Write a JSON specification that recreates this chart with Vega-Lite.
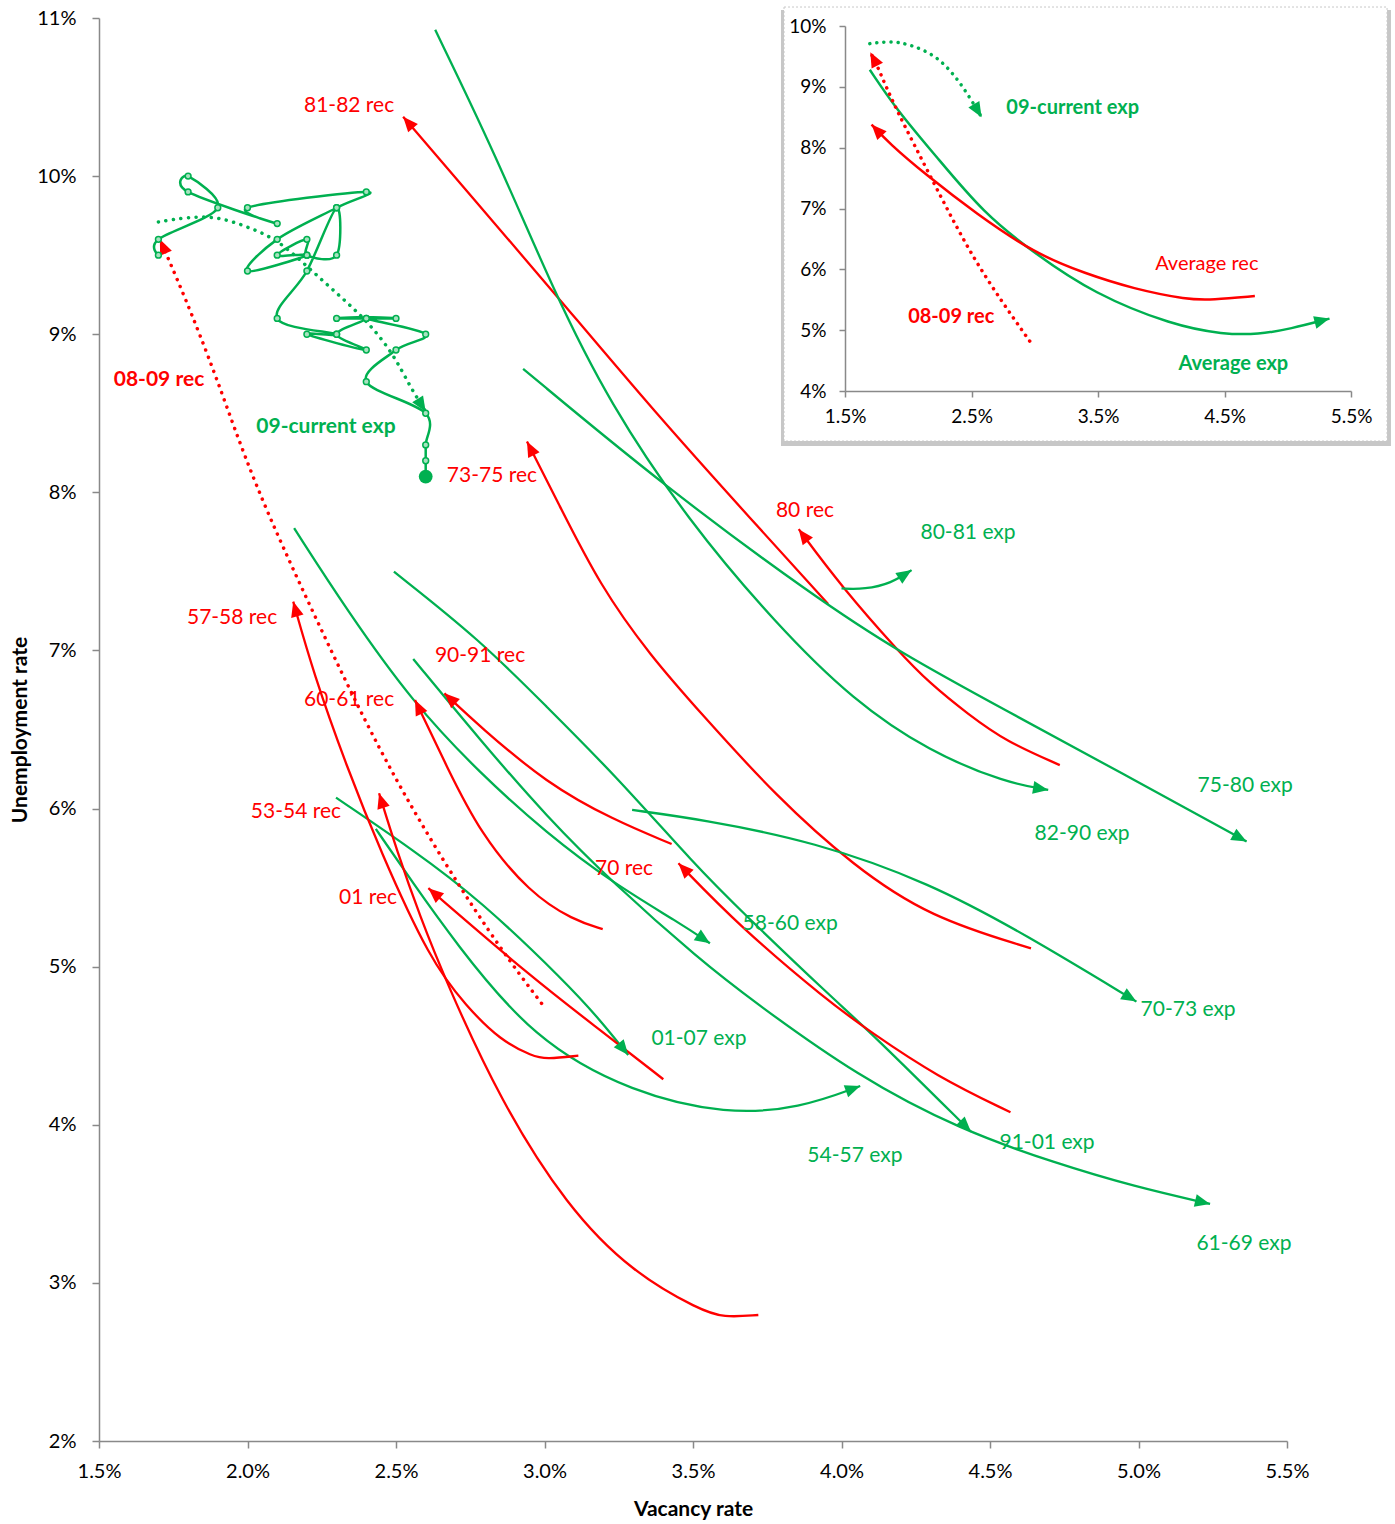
{
  "$schema": "https://vega.github.io/schema/vega-lite/v6.json",
  "width": 1188,
  "height": 1423,
  "autosize": {"type": "none"},
  "padding": {"left": 99, "top": 18, "right": 108, "bottom": 83},
  "background": "white",
  "config": {
    "font": "Lato",
    "view": {"stroke": null},
    "axis": {
      "grid": false,
      "domainColor": "#898989",
      "tickColor": "#898989",
      "domainWidth": 1.5,
      "tickWidth": 1.5,
      "labelColor": "#000000",
      "labelFont": "Lato",
      "titleFont": "Lato",
      "titleColor": "#000000",
      "titleFontWeight": "bold",
      "labelFlush": false,
      "labelOverlap": false
    }
  },
  "datasets": {
    "curves": [
      {"s": "81-82 rec", "k": "rec", "i": 1, "x": 3.955, "y": 7.294},
      {"s": "81-82 rec", "k": "rec", "i": 2, "x": 3.698, "y": 7.825},
      {"s": "81-82 rec", "k": "rec", "i": 3, "x": 3.374, "y": 8.5},
      {"s": "81-82 rec", "k": "rec", "i": 4, "x": 3.034, "y": 9.259},
      {"s": "81-82 rec", "k": "rec", "i": 5, "x": 2.755, "y": 9.87},
      {"s": "81-82 rec", "k": "rec", "i": 6, "x": 2.524, "y": 10.376},
      {"s": "80 rec", "k": "rec", "i": 1, "x": 4.735, "y": 6.275},
      {"s": "80 rec", "k": "rec", "i": 2, "x": 4.555, "y": 6.423},
      {"s": "80 rec", "k": "rec", "i": 3, "x": 4.426, "y": 6.597},
      {"s": "80 rec", "k": "rec", "i": 4, "x": 4.297, "y": 6.793},
      {"s": "80 rec", "k": "rec", "i": 5, "x": 4.194, "y": 6.989},
      {"s": "80 rec", "k": "rec", "i": 6, "x": 4.0, "y": 7.404},
      {"s": "80 rec", "k": "rec", "i": 7, "x": 3.856, "y": 7.767},
      {"s": "80-81 exp", "k": "exp", "i": 1, "x": 4.0, "y": 7.392},
      {"s": "80-81 exp", "k": "exp", "i": 2, "x": 4.078, "y": 7.386},
      {"s": "80-81 exp", "k": "exp", "i": 3, "x": 4.168, "y": 7.425},
      {"s": "80-81 exp", "k": "exp", "i": 4, "x": 4.236, "y": 7.508},
      {"s": "82-90 exp", "k": "exp", "i": 1, "x": 2.632, "y": 10.925},
      {"s": "82-90 exp", "k": "exp", "i": 2, "x": 2.833, "y": 10.145},
      {"s": "82-90 exp", "k": "exp", "i": 3, "x": 3.034, "y": 9.259},
      {"s": "82-90 exp", "k": "exp", "i": 4, "x": 3.219, "y": 8.564},
      {"s": "82-90 exp", "k": "exp", "i": 5, "x": 3.482, "y": 7.825},
      {"s": "82-90 exp", "k": "exp", "i": 6, "x": 3.781, "y": 7.164},
      {"s": "82-90 exp", "k": "exp", "i": 7, "x": 4.039, "y": 6.684},
      {"s": "82-90 exp", "k": "exp", "i": 8, "x": 4.297, "y": 6.358},
      {"s": "82-90 exp", "k": "exp", "i": 9, "x": 4.555, "y": 6.162},
      {"s": "82-90 exp", "k": "exp", "i": 10, "x": 4.696, "y": 6.118},
      {"s": "75-80 exp", "k": "exp", "i": 1, "x": 2.928, "y": 8.781},
      {"s": "75-80 exp", "k": "exp", "i": 2, "x": 3.405, "y": 8.036},
      {"s": "75-80 exp", "k": "exp", "i": 3, "x": 3.91, "y": 7.338},
      {"s": "75-80 exp", "k": "exp", "i": 4, "x": 4.194, "y": 6.989},
      {"s": "75-80 exp", "k": "exp", "i": 5, "x": 4.555, "y": 6.619},
      {"s": "75-80 exp", "k": "exp", "i": 6, "x": 4.941, "y": 6.227},
      {"s": "75-80 exp", "k": "exp", "i": 7, "x": 5.364, "y": 5.791},
      {"s": "73-75 rec", "k": "rec", "i": 1, "x": 4.638, "y": 5.116},
      {"s": "73-75 rec", "k": "rec", "i": 2, "x": 4.297, "y": 5.312},
      {"s": "73-75 rec", "k": "rec", "i": 3, "x": 4.039, "y": 5.639},
      {"s": "73-75 rec", "k": "rec", "i": 4, "x": 3.781, "y": 6.075},
      {"s": "73-75 rec", "k": "rec", "i": 5, "x": 3.524, "y": 6.608},
      {"s": "73-75 rec", "k": "rec", "i": 6, "x": 3.357, "y": 6.965},
      {"s": "73-75 rec", "k": "rec", "i": 7, "x": 3.187, "y": 7.408},
      {"s": "73-75 rec", "k": "rec", "i": 8, "x": 3.041, "y": 7.952},
      {"s": "73-75 rec", "k": "rec", "i": 9, "x": 2.941, "y": 8.321},
      {"s": "70-73 exp", "k": "exp", "i": 1, "x": 3.295, "y": 5.991},
      {"s": "70-73 exp", "k": "exp", "i": 2, "x": 3.524, "y": 5.933},
      {"s": "70-73 exp", "k": "exp", "i": 3, "x": 3.91, "y": 5.791},
      {"s": "70-73 exp", "k": "exp", "i": 4, "x": 4.297, "y": 5.53},
      {"s": "70-73 exp", "k": "exp", "i": 5, "x": 4.619, "y": 5.204},
      {"s": "70-73 exp", "k": "exp", "i": 6, "x": 4.993, "y": 4.779},
      {"s": "58-60 exp", "k": "exp", "i": 1, "x": 2.157, "y": 7.773},
      {"s": "58-60 exp", "k": "exp", "i": 2, "x": 2.334, "y": 7.256},
      {"s": "58-60 exp", "k": "exp", "i": 3, "x": 2.558, "y": 6.666},
      {"s": "58-60 exp", "k": "exp", "i": 4, "x": 2.783, "y": 6.223},
      {"s": "58-60 exp", "k": "exp", "i": 5, "x": 3.007, "y": 5.844},
      {"s": "58-60 exp", "k": "exp", "i": 6, "x": 3.232, "y": 5.527},
      {"s": "58-60 exp", "k": "exp", "i": 7, "x": 3.456, "y": 5.275},
      {"s": "58-60 exp", "k": "exp", "i": 8, "x": 3.557, "y": 5.148},
      {"s": "91-01 exp", "k": "exp", "i": 1, "x": 2.493, "y": 7.498},
      {"s": "91-01 exp", "k": "exp", "i": 2, "x": 2.783, "y": 7.066},
      {"s": "91-01 exp", "k": "exp", "i": 3, "x": 3.007, "y": 6.644},
      {"s": "91-01 exp", "k": "exp", "i": 4, "x": 3.232, "y": 6.223},
      {"s": "91-01 exp", "k": "exp", "i": 5, "x": 3.512, "y": 5.633},
      {"s": "91-01 exp", "k": "exp", "i": 6, "x": 3.658, "y": 5.359},
      {"s": "91-01 exp", "k": "exp", "i": 7, "x": 3.976, "y": 4.789},
      {"s": "91-01 exp", "k": "exp", "i": 8, "x": 4.096, "y": 4.589},
      {"s": "91-01 exp", "k": "exp", "i": 9, "x": 4.436, "y": 3.956},
      {"s": "61-69 exp", "k": "exp", "i": 1, "x": 2.558, "y": 6.946},
      {"s": "61-69 exp", "k": "exp", "i": 2, "x": 2.783, "y": 6.434},
      {"s": "61-69 exp", "k": "exp", "i": 3, "x": 3.007, "y": 5.949},
      {"s": "61-69 exp", "k": "exp", "i": 4, "x": 3.232, "y": 5.527},
      {"s": "61-69 exp", "k": "exp", "i": 5, "x": 3.524, "y": 5.042},
      {"s": "61-69 exp", "k": "exp", "i": 6, "x": 3.697, "y": 4.789},
      {"s": "61-69 exp", "k": "exp", "i": 7, "x": 4.056, "y": 4.304},
      {"s": "61-69 exp", "k": "exp", "i": 8, "x": 4.402, "y": 3.967},
      {"s": "61-69 exp", "k": "exp", "i": 9, "x": 4.722, "y": 3.756},
      {"s": "61-69 exp", "k": "exp", "i": 10, "x": 4.988, "y": 3.608},
      {"s": "61-69 exp", "k": "exp", "i": 11, "x": 5.241, "y": 3.499},
      {"s": "54-57 exp", "k": "exp", "i": 1, "x": 2.432, "y": 5.871},
      {"s": "54-57 exp", "k": "exp", "i": 2, "x": 2.558, "y": 5.527},
      {"s": "54-57 exp", "k": "exp", "i": 3, "x": 2.693, "y": 5.169},
      {"s": "54-57 exp", "k": "exp", "i": 4, "x": 2.962, "y": 4.536},
      {"s": "54-57 exp", "k": "exp", "i": 5, "x": 3.299, "y": 4.199},
      {"s": "54-57 exp", "k": "exp", "i": 6, "x": 3.613, "y": 4.066},
      {"s": "54-57 exp", "k": "exp", "i": 7, "x": 3.86, "y": 4.104},
      {"s": "54-57 exp", "k": "exp", "i": 8, "x": 4.063, "y": 4.245},
      {"s": "01-07 exp", "k": "exp", "i": 1, "x": 2.298, "y": 6.069},
      {"s": "01-07 exp", "k": "exp", "i": 2, "x": 2.558, "y": 5.738},
      {"s": "01-07 exp", "k": "exp", "i": 3, "x": 2.783, "y": 5.422},
      {"s": "01-07 exp", "k": "exp", "i": 4, "x": 3.075, "y": 4.895},
      {"s": "01-07 exp", "k": "exp", "i": 5, "x": 3.187, "y": 4.663},
      {"s": "01-07 exp", "k": "exp", "i": 6, "x": 3.282, "y": 4.441},
      {"s": "57-58 rec", "k": "rec", "i": 1, "x": 3.114, "y": 4.437},
      {"s": "57-58 rec", "k": "rec", "i": 2, "x": 3.007, "y": 4.416},
      {"s": "57-58 rec", "k": "rec", "i": 3, "x": 2.962, "y": 4.431},
      {"s": "57-58 rec", "k": "rec", "i": 4, "x": 2.85, "y": 4.536},
      {"s": "57-58 rec", "k": "rec", "i": 5, "x": 2.738, "y": 4.747},
      {"s": "57-58 rec", "k": "rec", "i": 6, "x": 2.614, "y": 5.042},
      {"s": "57-58 rec", "k": "rec", "i": 7, "x": 2.446, "y": 5.738},
      {"s": "57-58 rec", "k": "rec", "i": 8, "x": 2.334, "y": 6.265},
      {"s": "57-58 rec", "k": "rec", "i": 9, "x": 2.222, "y": 6.856},
      {"s": "57-58 rec", "k": "rec", "i": 10, "x": 2.154, "y": 7.309},
      {"s": "53-54 rec", "k": "rec", "i": 1, "x": 3.72, "y": 2.797},
      {"s": "53-54 rec", "k": "rec", "i": 2, "x": 3.602, "y": 2.78},
      {"s": "53-54 rec", "k": "rec", "i": 3, "x": 3.524, "y": 2.829},
      {"s": "53-54 rec", "k": "rec", "i": 4, "x": 3.299, "y": 3.061},
      {"s": "53-54 rec", "k": "rec", "i": 5, "x": 3.075, "y": 3.482},
      {"s": "53-54 rec", "k": "rec", "i": 6, "x": 2.85, "y": 4.157},
      {"s": "53-54 rec", "k": "rec", "i": 7, "x": 2.671, "y": 4.895},
      {"s": "53-54 rec", "k": "rec", "i": 8, "x": 2.581, "y": 5.316},
      {"s": "53-54 rec", "k": "rec", "i": 9, "x": 2.502, "y": 5.738},
      {"s": "53-54 rec", "k": "rec", "i": 10, "x": 2.443, "y": 6.097},
      {"s": "60-61 rec", "k": "rec", "i": 1, "x": 3.196, "y": 5.237},
      {"s": "60-61 rec", "k": "rec", "i": 2, "x": 3.097, "y": 5.295},
      {"s": "60-61 rec", "k": "rec", "i": 3, "x": 2.951, "y": 5.464},
      {"s": "60-61 rec", "k": "rec", "i": 4, "x": 2.783, "y": 5.844},
      {"s": "60-61 rec", "k": "rec", "i": 5, "x": 2.671, "y": 6.265},
      {"s": "60-61 rec", "k": "rec", "i": 6, "x": 2.564, "y": 6.687},
      {"s": "90-91 rec", "k": "rec", "i": 1, "x": 3.428, "y": 5.776},
      {"s": "90-91 rec", "k": "rec", "i": 2, "x": 3.232, "y": 5.928},
      {"s": "90-91 rec", "k": "rec", "i": 3, "x": 3.007, "y": 6.16},
      {"s": "90-91 rec", "k": "rec", "i": 4, "x": 2.783, "y": 6.518},
      {"s": "90-91 rec", "k": "rec", "i": 5, "x": 2.663, "y": 6.729},
      {"s": "70 rec", "k": "rec", "i": 1, "x": 4.569, "y": 4.079},
      {"s": "70 rec", "k": "rec", "i": 2, "x": 4.322, "y": 4.304},
      {"s": "70 rec", "k": "rec", "i": 3, "x": 4.096, "y": 4.589},
      {"s": "70 rec", "k": "rec", "i": 4, "x": 3.95, "y": 4.789},
      {"s": "70 rec", "k": "rec", "i": 5, "x": 3.658, "y": 5.253},
      {"s": "70 rec", "k": "rec", "i": 6, "x": 3.451, "y": 5.654},
      {"s": "01 rec", "k": "rec", "i": 1, "x": 3.4, "y": 4.288},
      {"s": "01 rec", "k": "rec", "i": 2, "x": 3.187, "y": 4.6},
      {"s": "01 rec", "k": "rec", "i": 3, "x": 2.962, "y": 4.924},
      {"s": "01 rec", "k": "rec", "i": 4, "x": 2.609, "y": 5.496}
    ],
    "current_fit": [
      {"s": "09-current exp", "k": "exp", "i": 1, "x": 1.7, "y": 9.71},
      {"s": "09-current exp", "k": "exp", "i": 2, "x": 1.795, "y": 9.74},
      {"s": "09-current exp", "k": "exp", "i": 3, "x": 1.896, "y": 9.746},
      {"s": "09-current exp", "k": "exp", "i": 4, "x": 2.0, "y": 9.68},
      {"s": "09-current exp", "k": "exp", "i": 5, "x": 2.1, "y": 9.6},
      {"s": "09-current exp", "k": "exp", "i": 6, "x": 2.2, "y": 9.43},
      {"s": "09-current exp", "k": "exp", "i": 7, "x": 2.3, "y": 9.26},
      {"s": "09-current exp", "k": "exp", "i": 8, "x": 2.4, "y": 9.09},
      {"s": "09-current exp", "k": "exp", "i": 9, "x": 2.49, "y": 8.88},
      {"s": "09-current exp", "k": "exp", "i": 10, "x": 2.547, "y": 8.669},
      {"s": "09-current exp", "k": "exp", "i": 11, "x": 2.6, "y": 8.51},
      {"s": "08-09 rec", "k": "rec", "i": 1, "x": 2.99, "y": 4.768},
      {"s": "08-09 rec", "k": "rec", "i": 2, "x": 2.86, "y": 5.09},
      {"s": "08-09 rec", "k": "rec", "i": 3, "x": 2.67, "y": 5.63},
      {"s": "08-09 rec", "k": "rec", "i": 4, "x": 2.446, "y": 6.35},
      {"s": "08-09 rec", "k": "rec", "i": 5, "x": 2.22, "y": 7.24},
      {"s": "08-09 rec", "k": "rec", "i": 6, "x": 2.02, "y": 8.06},
      {"s": "08-09 rec", "k": "rec", "i": 7, "x": 1.896, "y": 8.73},
      {"s": "08-09 rec", "k": "rec", "i": 8, "x": 1.784, "y": 9.26},
      {"s": "08-09 rec", "k": "rec", "i": 9, "x": 1.705, "y": 9.6}
    ],
    "current": [
      {"i": 1, "x": 1.7, "y": 9.5},
      {"i": 2, "x": 1.7, "y": 9.6},
      {"i": 3, "x": 1.9, "y": 9.8},
      {"i": 4, "x": 1.8, "y": 10.0},
      {"i": 5, "x": 1.8, "y": 9.9},
      {"i": 6, "x": 2.1, "y": 9.7},
      {"i": 7, "x": 2.0, "y": 9.8},
      {"i": 8, "x": 2.4, "y": 9.9},
      {"i": 9, "x": 2.3, "y": 9.8},
      {"i": 10, "x": 2.1, "y": 9.6},
      {"i": 11, "x": 2.0, "y": 9.4},
      {"i": 12, "x": 2.2, "y": 9.5},
      {"i": 13, "x": 2.1, "y": 9.5},
      {"i": 14, "x": 2.2, "y": 9.6},
      {"i": 15, "x": 2.2, "y": 9.5},
      {"i": 16, "x": 2.3, "y": 9.5},
      {"i": 17, "x": 2.3, "y": 9.8},
      {"i": 18, "x": 2.2, "y": 9.4},
      {"i": 19, "x": 2.1, "y": 9.1},
      {"i": 20, "x": 2.3, "y": 9.0},
      {"i": 21, "x": 2.2, "y": 9.0},
      {"i": 22, "x": 2.4, "y": 8.9},
      {"i": 23, "x": 2.3, "y": 9.0},
      {"i": 24, "x": 2.4, "y": 9.1},
      {"i": 25, "x": 2.3, "y": 9.1},
      {"i": 26, "x": 2.5, "y": 9.1},
      {"i": 27, "x": 2.4, "y": 9.1},
      {"i": 28, "x": 2.6, "y": 9.0},
      {"i": 29, "x": 2.5, "y": 8.9},
      {"i": 30, "x": 2.4, "y": 8.7},
      {"i": 31, "x": 2.6, "y": 8.5},
      {"i": 32, "x": 2.6, "y": 8.3},
      {"i": 33, "x": 2.6, "y": 8.2},
      {"i": 34, "x": 2.6, "y": 8.1}
    ],
    "labels": [
      {"label": "81-82 rec", "k": "rec", "x": 2.342, "y": 10.444},
      {"label": "08-09 rec", "k": "rec", "x": 1.702, "y": 8.711},
      {"label": "09-current exp", "k": "exp", "x": 2.264, "y": 8.414},
      {"label": "73-75 rec", "k": "rec", "x": 2.823, "y": 8.104},
      {"label": "80 rec", "k": "rec", "x": 3.877, "y": 7.882},
      {"label": "80-81 exp", "k": "exp", "x": 4.426, "y": 7.743},
      {"label": "57-58 rec", "k": "rec", "x": 1.948, "y": 7.206},
      {"label": "90-91 rec", "k": "rec", "x": 2.783, "y": 6.965},
      {"label": "60-61 rec", "k": "rec", "x": 2.342, "y": 6.687},
      {"label": "75-80 exp", "k": "exp", "x": 5.359, "y": 6.143},
      {"label": "53-54 rec", "k": "rec", "x": 2.163, "y": 5.978},
      {"label": "82-90 exp", "k": "exp", "x": 4.81, "y": 5.839},
      {"label": "70 rec", "k": "rec", "x": 3.268, "y": 5.618},
      {"label": "01 rec", "k": "rec", "x": 2.406, "y": 5.435},
      {"label": "58-60 exp", "k": "exp", "x": 3.827, "y": 5.27},
      {"label": "70-73 exp", "k": "exp", "x": 5.167, "y": 4.726},
      {"label": "01-07 exp", "k": "exp", "x": 3.52, "y": 4.543},
      {"label": "91-01 exp", "k": "exp", "x": 4.692, "y": 3.885},
      {"label": "54-57 exp", "k": "exp", "x": 4.045, "y": 3.803},
      {"label": "61-69 exp", "k": "exp", "x": 5.355, "y": 3.246}
    ],
    "inset": [
      {"s": "Average exp", "k": "exp", "i": 1, "x": 1.696, "y": 9.28},
      {"s": "Average exp", "k": "exp", "i": 2, "x": 1.913, "y": 8.61},
      {"s": "Average exp", "k": "exp", "i": 3, "x": 2.224, "y": 7.85},
      {"s": "Average exp", "k": "exp", "i": 4, "x": 2.596, "y": 6.92},
      {"s": "Average exp", "k": "exp", "i": 5, "x": 3.0, "y": 6.26},
      {"s": "Average exp", "k": "exp", "i": 6, "x": 3.466, "y": 5.6},
      {"s": "Average exp", "k": "exp", "i": 7, "x": 4.09, "y": 5.08},
      {"s": "Average exp", "k": "exp", "i": 8, "x": 4.49, "y": 4.93},
      {"s": "Average exp", "k": "exp", "i": 9, "x": 4.77, "y": 4.93},
      {"s": "Average exp", "k": "exp", "i": 10, "x": 5.02, "y": 5.02},
      {"s": "Average exp", "k": "exp", "i": 11, "x": 5.33, "y": 5.19},
      {"s": "Average rec", "k": "rec", "i": 1, "x": 4.74, "y": 5.56},
      {"s": "Average rec", "k": "rec", "i": 2, "x": 4.4, "y": 5.5},
      {"s": "Average rec", "k": "rec", "i": 3, "x": 4.21, "y": 5.5},
      {"s": "Average rec", "k": "rec", "i": 4, "x": 3.78, "y": 5.68},
      {"s": "Average rec", "k": "rec", "i": 5, "x": 3.4, "y": 5.93},
      {"s": "Average rec", "k": "rec", "i": 6, "x": 3.0, "y": 6.26},
      {"s": "Average rec", "k": "rec", "i": 7, "x": 2.534, "y": 6.92},
      {"s": "Average rec", "k": "rec", "i": 8, "x": 2.13, "y": 7.57},
      {"s": "Average rec", "k": "rec", "i": 9, "x": 1.85, "y": 8.07},
      {"s": "Average rec", "k": "rec", "i": 10, "x": 1.71, "y": 8.38},
      {"s": "08-09 rec", "k": "rec", "i": 1, "x": 2.96, "y": 4.82},
      {"s": "08-09 rec", "k": "rec", "i": 2, "x": 2.53, "y": 6.09},
      {"s": "08-09 rec", "k": "rec", "i": 3, "x": 2.22, "y": 7.35},
      {"s": "08-09 rec", "k": "rec", "i": 4, "x": 1.88, "y": 8.72},
      {"s": "08-09 rec", "k": "rec", "i": 5, "x": 1.76, "y": 9.33},
      {"s": "08-09 rec", "k": "rec", "i": 6, "x": 1.7, "y": 9.57},
      {"s": "09-current exp", "k": "exp", "i": 1, "x": 1.696, "y": 9.71},
      {"s": "09-current exp", "k": "exp", "i": 2, "x": 1.85, "y": 9.75},
      {"s": "09-current exp", "k": "exp", "i": 3, "x": 2.0, "y": 9.71},
      {"s": "09-current exp", "k": "exp", "i": 4, "x": 2.22, "y": 9.52},
      {"s": "09-current exp", "k": "exp", "i": 5, "x": 2.38, "y": 9.16},
      {"s": "09-current exp", "k": "exp", "i": 6, "x": 2.5, "y": 8.78},
      {"s": "09-current exp", "k": "exp", "i": 7, "x": 2.58, "y": 8.5}
    ],
    "inset_labels": [
      {"label": "09-current exp", "k": "exp", "x": 3.3, "y": 8.66},
      {"label": "Average rec", "k": "rec", "x": 4.36, "y": 6.08},
      {"label": "08-09 rec", "k": "rec", "x": 2.34, "y": 5.21},
      {"label": "Average exp", "k": "exp", "x": 4.57, "y": 4.44}
    ],
    "inset_frame": [
      {"part": "shadow", "x": 0.994, "x2": 5.816, "y": 10.263, "y2": 3.096},
      {"part": "panel", "x": 1.018, "x2": 5.785, "y": 10.312, "y2": 3.178}
    ]
  },
  "layer": [
    {
      "encoding": {
        "x": {
          "field": "x",
          "type": "quantitative",
          "scale": {"domain": [1.5, 5.5], "nice": false, "zero": false},
          "axis": {
            "values": [1.5, 2, 2.5, 3, 3.5, 4, 4.5, 5, 5.5],
            "labelExpr": "format(datum.value, '.1f') + '%'",
            "labelFontSize": 20,
            "tickSize": 7,
            "labelPadding": 13,
            "title": "Vacancy rate",
            "titleFontSize": 21,
            "titlePadding": 17
          }
        },
        "y": {
          "field": "y",
          "type": "quantitative",
          "scale": {"domain": [2, 11], "nice": false, "zero": false},
          "axis": {
            "values": [2, 3, 4, 5, 6, 7, 8, 9, 10, 11],
            "labelExpr": "format(datum.value, 'd') + '%'",
            "labelFontSize": 20,
            "tickSize": 7,
            "labelPadding": 16,
            "title": "Unemployment rate",
            "titleFontSize": 21,
            "titlePadding": 6
          }
        }
      },
      "layer": [
        {
          "data": {"name": "curves"},
          "mark": {"type": "line", "interpolate": "basis", "strokeWidth": 2.3},
          "encoding": {
            "color": {"field": "k", "type": "nominal", "scale": {"domain": ["rec", "exp"], "range": ["#FF0000", "#00B050"]}, "legend": null},
            "detail": {"field": "s"},
            "order": {"field": "i", "type": "quantitative"}
          }
        },
        {
          "data": {"name": "curves"},
          "transform": [
            {"window": [{"op": "lag", "field": "x", "as": "px"}, {"op": "lag", "field": "y", "as": "py"}, {"op": "count", "as": "n"}, {"op": "row_number", "as": "r"}], "groupby": ["s"], "sort": [{"field": "i", "order": "ascending"}], "frame": [null, null]},
            {"filter": "datum.r == datum.n"},
            {"calculate": "atan2((datum.x - datum.px) * 297, (datum.y - datum.py) * 158.1) * 180 / PI", "as": "ang"}
          ],
          "mark": {"type": "point", "shape": "M0,0L0.8,1.9L-0.8,1.9Z", "filled": true, "opacity": 1, "size": 256},
          "encoding": {
            "color": {"field": "k", "type": "nominal", "scale": {"domain": ["rec", "exp"], "range": ["#FF0000", "#00B050"]}, "legend": null},
            "angle": {"field": "ang", "type": "quantitative", "scale": null}
          }
        },
        {
          "data": {"name": "current_fit"},
          "mark": {"type": "line", "interpolate": "basis", "strokeWidth": 3.5, "strokeDash": [0.1, 7.5], "strokeCap": "round"},
          "encoding": {
            "color": {"field": "k", "type": "nominal", "scale": {"domain": ["rec", "exp"], "range": ["#FF0000", "#00B050"]}, "legend": null},
            "detail": {"field": "s"},
            "order": {"field": "i", "type": "quantitative"}
          }
        },
        {
          "data": {"name": "current_fit"},
          "transform": [
            {"window": [{"op": "lag", "field": "x", "as": "px"}, {"op": "lag", "field": "y", "as": "py"}, {"op": "count", "as": "n"}, {"op": "row_number", "as": "r"}], "groupby": ["s"], "sort": [{"field": "i", "order": "ascending"}], "frame": [null, null]},
            {"filter": "datum.r == datum.n"},
            {"calculate": "atan2((datum.x - datum.px) * 297, (datum.y - datum.py) * 158.1) * 180 / PI", "as": "ang"}
          ],
          "mark": {"type": "point", "shape": "M0,0L0.8,1.9L-0.8,1.9Z", "filled": true, "opacity": 1, "size": 256},
          "encoding": {
            "color": {"field": "k", "type": "nominal", "scale": {"domain": ["rec", "exp"], "range": ["#FF0000", "#00B050"]}, "legend": null},
            "angle": {"field": "ang", "type": "quantitative", "scale": null}
          }
        },
        {
          "data": {"name": "current"},
          "mark": {"type": "line", "interpolate": "cardinal", "strokeWidth": 2.5, "color": "#00B050"},
          "encoding": {"order": {"field": "i", "type": "quantitative"}}
        },
        {
          "data": {"name": "current"},
          "mark": {"type": "point", "shape": "circle", "size": 34, "filled": true, "fill": "#a8e2c0", "stroke": "#00B050", "strokeWidth": 1.5, "opacity": 1}
        },
        {
          "data": {"name": "current"},
          "transform": [
            {"window": [{"op": "count", "as": "n"}, {"op": "row_number", "as": "r"}], "sort": [{"field": "i", "order": "ascending"}], "frame": [null, null]},
            {"filter": "datum.r == datum.n"}
          ],
          "mark": {"type": "point", "shape": "circle", "size": 190, "filled": true, "color": "#00B050", "opacity": 1}
        },
        {
          "data": {"name": "labels"},
          "transform": [{"filter": "datum.label != '08-09 rec' && datum.label != '09-current exp'"}],
          "mark": {"type": "text", "fontSize": 21, "align": "center", "baseline": "middle"},
          "encoding": {
            "text": {"field": "label"},
            "color": {"field": "k", "type": "nominal", "scale": {"domain": ["rec", "exp"], "range": ["#FF0000", "#00B050"]}, "legend": null}
          }
        },
        {
          "data": {"name": "labels"},
          "transform": [{"filter": "datum.label == '08-09 rec' || datum.label == '09-current exp'"}],
          "mark": {"type": "text", "fontSize": 21, "fontWeight": "bold", "align": "center", "baseline": "middle"},
          "encoding": {
            "text": {"field": "label"},
            "color": {"field": "k", "type": "nominal", "scale": {"domain": ["rec", "exp"], "range": ["#FF0000", "#00B050"]}, "legend": null}
          }
        }
      ]
    },
    {
      "encoding": {
        "x": {
          "field": "x",
          "type": "quantitative",
          "scale": {"domain": [1.5, 5.5], "range": [746, 1252], "nice": false, "zero": false},
          "axis": {
            "orient": "bottom",
            "offset": -1050,
            "values": [1.5, 2.5, 3.5, 4.5, 5.5],
            "labelExpr": "format(datum.value, '.1f') + '%'",
            "labelFontSize": 19,
            "tickSize": 6,
            "labelPadding": 10,
            "title": null,
            "zindex": 1
          }
        },
        "y": {
          "field": "y",
          "type": "quantitative",
          "scale": {"domain": [4, 10], "range": [373, 8], "nice": false, "zero": false},
          "axis": {
            "orient": "left",
            "offset": -746,
            "values": [4, 5, 6, 7, 8, 9, 10],
            "labelExpr": "format(datum.value, 'd') + '%'",
            "labelFontSize": 19,
            "tickSize": 6,
            "labelPadding": 13,
            "title": null,
            "zindex": 1
          }
        }
      },
      "layer": [
        {
          "data": {"name": "inset_frame"},
          "transform": [{"filter": "datum.part == 'shadow'"}],
          "mark": {"type": "rect", "color": "#bdbdbd", "opacity": 0.85},
          "encoding": {
            "x2": {"field": "x2"},
            "y2": {"field": "y2"}
          }
        },
        {
          "data": {"name": "inset_frame"},
          "transform": [{"filter": "datum.part == 'panel'"}],
          "mark": {"type": "rect", "fill": "white", "stroke": "#c8c8c8", "strokeWidth": 1, "strokeDash": [2, 2], "opacity": 1},
          "encoding": {
            "x2": {"field": "x2"},
            "y2": {"field": "y2"}
          }
        },
        {
          "data": {"name": "inset"},
          "transform": [{"filter": "datum.s == 'Average exp' || datum.s == 'Average rec'"}],
          "mark": {"type": "line", "interpolate": "basis", "strokeWidth": 2.5},
          "encoding": {
            "color": {"field": "k", "type": "nominal", "scale": {"domain": ["rec", "exp"], "range": ["#FF0000", "#00B050"]}, "legend": null},
            "detail": {"field": "s"},
            "order": {"field": "i", "type": "quantitative"}
          }
        },
        {
          "data": {"name": "inset"},
          "transform": [{"filter": "datum.s == '08-09 rec' || datum.s == '09-current exp'"}],
          "mark": {"type": "line", "interpolate": "basis", "strokeWidth": 3.5, "strokeDash": [0.1, 7], "strokeCap": "round"},
          "encoding": {
            "color": {"field": "k", "type": "nominal", "scale": {"domain": ["rec", "exp"], "range": ["#FF0000", "#00B050"]}, "legend": null},
            "detail": {"field": "s"},
            "order": {"field": "i", "type": "quantitative"}
          }
        },
        {
          "data": {"name": "inset"},
          "transform": [
            {"window": [{"op": "lag", "field": "x", "as": "px"}, {"op": "lag", "field": "y", "as": "py"}, {"op": "count", "as": "n"}, {"op": "row_number", "as": "r"}], "groupby": ["s"], "sort": [{"field": "i", "order": "ascending"}], "frame": [null, null]},
            {"filter": "datum.r == datum.n"},
            {"calculate": "atan2((datum.x - datum.px) * 126.5, (datum.y - datum.py) * 60.83) * 180 / PI", "as": "ang"}
          ],
          "mark": {"type": "point", "shape": "M0,0L0.8,1.9L-0.8,1.9Z", "filled": true, "opacity": 1, "size": 256},
          "encoding": {
            "color": {"field": "k", "type": "nominal", "scale": {"domain": ["rec", "exp"], "range": ["#FF0000", "#00B050"]}, "legend": null},
            "angle": {"field": "ang", "type": "quantitative", "scale": null}
          }
        },
        {
          "data": {"name": "inset_labels"},
          "transform": [{"filter": "datum.label == 'Average rec'"}],
          "mark": {"type": "text", "fontSize": 20, "align": "center", "baseline": "middle"},
          "encoding": {
            "text": {"field": "label"},
            "color": {"field": "k", "type": "nominal", "scale": {"domain": ["rec", "exp"], "range": ["#FF0000", "#00B050"]}, "legend": null}
          }
        },
        {
          "data": {"name": "inset_labels"},
          "transform": [{"filter": "datum.label != 'Average rec'"}],
          "mark": {"type": "text", "fontSize": 20, "fontWeight": "bold", "align": "center", "baseline": "middle"},
          "encoding": {
            "text": {"field": "label"},
            "color": {"field": "k", "type": "nominal", "scale": {"domain": ["rec", "exp"], "range": ["#FF0000", "#00B050"]}, "legend": null}
          }
        }
      ]
    }
  ],
  "resolve": {
    "scale": {"x": "independent", "y": "independent"},
    "axis": {"x": "independent", "y": "independent"}
  }
}
